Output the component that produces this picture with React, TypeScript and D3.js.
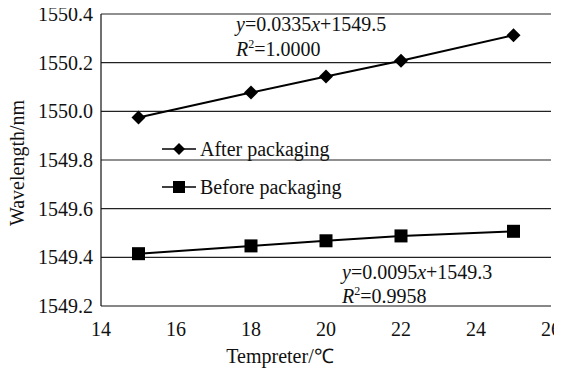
import React from "react";
import * as d3 from "d3";

const temps = [15, 18, 20, 22, 25];
const afterVals = [1549.975, 1550.077, 1550.143, 1550.208, 1550.313];
const beforeVals = [1549.415, 1549.447, 1549.468, 1549.488, 1549.507];
const xTicks = [14, 16, 18, 20, 22, 24, 26];
const yTicks = [1549.2, 1549.4, 1549.6, 1549.8, 1550.0, 1550.2, 1550.4];
const seriesNames = ["After packaging", "Before packaging"];

const W = 562, H = 370;
const OFF = 8;
const M = { left: 101, right: 551, top: 14, bottom: 306 };
const FS = 20;
const FF = "Liberation Serif";

export default function App() {
  const x = d3.scaleLinear().domain([14, 26]).range([M.left, M.right]);
  const y = d3.scaleLinear().domain([1549.2, 1550.4]).range([M.bottom, M.top]);
  const line = d3.line<number>().x((_, i) => x(temps[i])).y((d) => y(d));
  const diamond = (cx: number, cy: number, r: number) =>
    `M${cx},${cy - r}L${cx + r},${cy}L${cx},${cy + r}L${cx - r},${cy}Z`;
  const sq = 13;
  return (
    <svg width={W - OFF} height={H - OFF} fontFamily={FF} style={{ display: "block", background: "#fff" }}>
      <g transform={`translate(${-OFF},${-OFF})`}>
        <rect width={W} height={H} fill="#fff" />
        {yTicks.map((t) => (
          <g key={t}>
            {t > 1549.2 && <line x1={M.left} x2={M.right} y1={y(t)} y2={y(t)} stroke="#222" strokeWidth={1.2} />}
            <text fontFamily={FF} x={93} y={y(t)} dy="0.35em" textAnchor="end" fontSize={FS} fill="#111">{t.toFixed(1)}</text>
          </g>
        ))}
        <line x1={M.left} x2={M.left} y1={M.top} y2={M.bottom} stroke="#111" strokeWidth={1.2} />
        <line x1={M.left} x2={M.right} y1={M.bottom} y2={M.bottom} stroke="#111" strokeWidth={1.2} />
        {xTicks.map((t) => (
          <text fontFamily={FF} key={t} x={x(t)} y={336} textAnchor="middle" fontSize={FS} fill="#111">{t}</text>
        ))}
        <text fontFamily={FF} x={280} y={363} textAnchor="middle" fontSize={FS} fill="#111">Tempreter/℃</text>
        <text fontFamily={FF} transform={`translate(24,${(M.top + M.bottom) / 2 + 3}) rotate(-90)`} textAnchor="middle" fontSize={FS} fill="#111">Wavelength/nm</text>

        <path d={line(afterVals) || ""} fill="none" stroke="#000" strokeWidth={2} />
        {afterVals.map((v, i) => (
          <path key={i} d={diamond(x(temps[i]), y(v), 7)} fill="#000" />
        ))}
        <path d={line(beforeVals) || ""} fill="none" stroke="#000" strokeWidth={2} />
        {beforeVals.map((v, i) => (
          <rect key={i} x={x(temps[i]) - sq / 2} y={y(v) - sq / 2} width={sq} height={sq} fill="#000" />
        ))}

        <line x1={162} x2={196} y1={149} y2={149} stroke="#000" strokeWidth={1.5} />
        <path d={diamond(179, 149, 6)} fill="#000" />
        <text fontFamily={FF} x={200} y={149} dy="0.35em" fontSize={FS} fill="#111">{seriesNames[0]}</text>
        <line x1={162} x2={196} y1={187} y2={187} stroke="#000" strokeWidth={1.5} />
        <rect x={179 - 6} y={187 - 6} width={12} height={12} fill="#000" />
        <text fontFamily={FF} x={200} y={187} dy="0.35em" fontSize={FS} fill="#111">{seriesNames[1]}</text>

        <text fontFamily={FF} x={236} y={31} fontSize={FS} fill="#111"><tspan fontStyle="italic">y</tspan>=0.0335<tspan fontStyle="italic">x</tspan>+1549.5</text>
        <text fontFamily={FF} x={236} y={56} fontSize={FS} fill="#111"><tspan fontStyle="italic">R</tspan><tspan fontSize={12} dy={-8}>2</tspan><tspan dy={8}>=1.0000</tspan></text>
        <text fontFamily={FF} x={342} y={279} fontSize={FS} fill="#111"><tspan fontStyle="italic">y</tspan>=0.0095<tspan fontStyle="italic">x</tspan>+1549.3</text>
        <text fontFamily={FF} x={342} y={303} fontSize={FS} fill="#111"><tspan fontStyle="italic">R</tspan><tspan fontSize={12} dy={-8}>2</tspan><tspan dy={8}>=0.9958</tspan></text>
      </g>
    </svg>
  );
}
